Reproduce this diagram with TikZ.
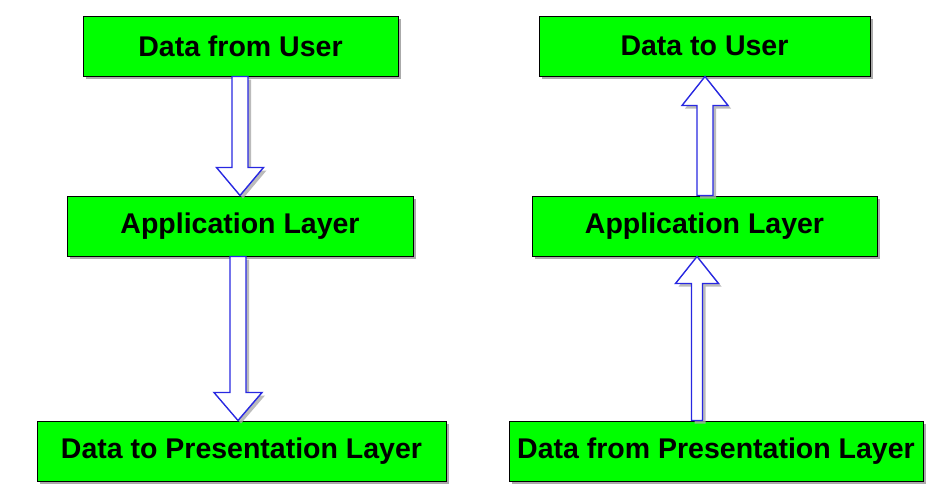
\documentclass[tikz,border=0pt]{standalone}
\usepackage{fontspec}
\setmainfont{Liberation Sans}
\usetikzlibrary{calc,shadows}
\definecolor{boxgreen}{RGB}{0,255,0}
\definecolor{arrblue}{RGB}{40,40,225}
\definecolor{shadowgray}{RGB}{170,170,170}
\tikzset{
  layerbox/.style={draw=black, line width=1pt, fill=boxgreen, inner sep=0pt,
    minimum height=60pt, align=center,
    font=\fontsize{28.5}{30}\selectfont\bfseries,
    drop shadow={shadow xshift=3pt, shadow yshift=-3pt, fill=shadowgray, opacity=1}},
  hollowarr/.style={draw=arrblue, line width=1.4pt, fill=white, line join=miter,
    drop shadow={shadow xshift=3pt, shadow yshift=-3pt, fill=shadowgray, opacity=0.8}}
}
% #1 start anchor, #2 tip anchor, #3 x centre (pt), #4 shaft half width, #5 head half width, #6 head length (signed, canvas)
\newcommand\hollowarrow[6]{%
  \path[hollowarr] let \p1=(#1), \p2=(#2) in
    (#3pt-#4pt,\y1) -- (#3pt-#4pt,\y2+#6) -- (#3pt-#5pt,\y2+#6) -- (#3pt,\y2)
    -- (#3pt+#5pt,\y2+#6) -- (#3pt+#4pt,\y2+#6) -- (#3pt+#4pt,\y1) -- cycle;}
\begin{document}
\begin{tikzpicture}[x=1pt,y=-1pt]
\useasboundingbox (0,0) rectangle (946,501);
% left column
\node[layerbox, minimum width=315pt] (lu) at (240.5,46) {Data from User};
\node[layerbox, minimum width=346pt] (la) at (240,226) {Application Layer};
\node[layerbox, minimum width=409pt] (lp) at (241.5,451) {Data to Presentation Layer};
% right column
\node[layerbox, minimum width=331pt] (ru) at (704.5,46) {Data to User};
\node[layerbox, minimum width=345pt] (ra) at (704.5,226) {Application Layer};
\node[layerbox, minimum width=414pt] (rp) at (716,451) {Data from Presentation Layer};
% arrows
\hollowarrow{lu.south}{la.north}{240}{8}{23.5}{28pt}
\hollowarrow{la.south}{lp.north}{238}{8}{24}{28pt}
\hollowarrow{ra.north}{ru.south}{705}{8}{23}{-29pt}
\hollowarrow{rp.north}{ra.south}{697}{5.5}{21.5}{-27pt}
\end{tikzpicture}
\end{document}
